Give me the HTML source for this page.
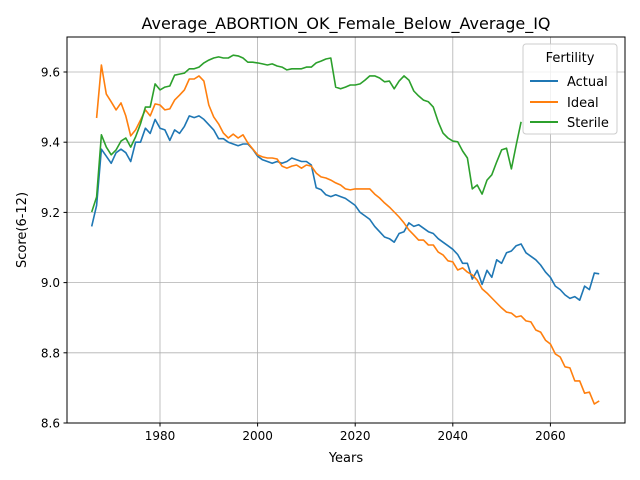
<!DOCTYPE html>
<html><head><meta charset="utf-8"><style>body{margin:0;background:#fff}svg{display:block;font-family:"DejaVu Sans","Liberation Sans",sans-serif}</style></head>
<body>
<svg id="chart" width="640" height="480" xmlns="http://www.w3.org/2000/svg">
<rect width="640" height="480" fill="#fff"/>
<text x="346" y="29" font-size="16" text-anchor="middle">Average_ABORTION_OK_Female_Below_Average_IQ</text>
<g id="grid"></g>
<g id="series"></g>
<rect x="67" y="37" width="558" height="386" fill="none" stroke="#000" stroke-width="1"/>
<g id="ticks"></g>
<text x="346" y="462" font-size="13" text-anchor="middle">Years</text>
<text transform="translate(26,230) rotate(-90)" font-size="13" text-anchor="middle">Score(6-12)</text>
<g>
<rect x="523" y="44" width="94" height="90" rx="3" fill="#fff" fill-opacity="0.8" stroke="#ccc"/>
<text x="570" y="62" font-size="13" text-anchor="middle">Fertility</text>
<line x1="530" y1="81" x2="558" y2="81" stroke="#1f77b4" stroke-width="2"/>
<text x="567" y="86" font-size="13">Actual</text>
<line x1="530" y1="102" x2="558" y2="102" stroke="#ff7f0e" stroke-width="2"/>
<text x="567" y="107" font-size="13">Ideal</text>
<line x1="530" y1="122" x2="558" y2="122" stroke="#2ca02c" stroke-width="2"/>
<text x="567" y="127" font-size="13">Sterile</text>
</g>
</svg>
<script>
const xTicks=[1980,2000,2020,2040,2060];
const yTicks=[8.6,8.8,9.0,9.2,9.4,9.6];
const actualStart=1966;
const actual=[9.16,9.22,9.38,9.36,9.34,9.37,9.38,9.37,9.345,9.40,9.40,9.44,9.425,9.465,9.44,9.435,9.405,9.435,9.425,9.445,9.475,9.47,9.475,9.465,9.45,9.435,9.41,9.41,9.40,9.395,9.39,9.395,9.395,9.38,9.36,9.35,9.345,9.34,9.345,9.34,9.345,9.355,9.35,9.345,9.345,9.335,9.27,9.265,9.25,9.245,9.25,9.245,9.24,9.23,9.22,9.20,9.19,9.18,9.16,9.145,9.13,9.125,9.115,9.14,9.145,9.17,9.16,9.165,9.155,9.145,9.14,9.125,9.115,9.105,9.095,9.08,9.055,9.055,9.01,9.035,8.995,9.035,9.015,9.065,9.055,9.085,9.09,9.105,9.11,9.085,9.075,9.065,9.05,9.03,9.015,8.99,8.98,8.965,8.955,8.96,8.95,8.99,8.98,9.027,9.025];
const idealStart=1967;
const ideal=[9.469,9.620,9.537,9.515,9.492,9.512,9.475,9.418,9.435,9.463,9.492,9.475,9.509,9.506,9.492,9.495,9.520,9.534,9.549,9.580,9.580,9.589,9.574,9.506,9.472,9.452,9.426,9.412,9.423,9.412,9.421,9.398,9.381,9.364,9.358,9.355,9.355,9.352,9.332,9.326,9.332,9.335,9.326,9.335,9.332,9.312,9.301,9.298,9.292,9.284,9.278,9.267,9.264,9.267,9.267,9.267,9.267,9.252,9.241,9.227,9.215,9.201,9.187,9.170,9.150,9.136,9.121,9.121,9.107,9.107,9.087,9.079,9.062,9.059,9.036,9.042,9.030,9.022,9.007,8.982,8.970,8.956,8.942,8.928,8.916,8.913,8.902,8.905,8.891,8.888,8.865,8.859,8.836,8.825,8.797,8.788,8.760,8.757,8.720,8.720,8.685,8.688,8.654,8.663];
const sterileStart=1966;
const sterile=[9.201,9.244,9.421,9.386,9.364,9.378,9.403,9.412,9.386,9.415,9.452,9.500,9.500,9.566,9.549,9.557,9.560,9.591,9.594,9.597,9.609,9.609,9.614,9.626,9.634,9.640,9.643,9.640,9.640,9.648,9.646,9.640,9.628,9.628,9.626,9.623,9.620,9.623,9.617,9.614,9.606,9.609,9.609,9.609,9.614,9.614,9.626,9.631,9.637,9.640,9.557,9.552,9.557,9.563,9.563,9.566,9.577,9.589,9.589,9.583,9.572,9.574,9.552,9.574,9.589,9.577,9.546,9.532,9.520,9.515,9.500,9.458,9.426,9.412,9.403,9.401,9.375,9.355,9.267,9.278,9.252,9.292,9.307,9.344,9.378,9.383,9.324,9.392,9.458];
const NS='http://www.w3.org/2000/svg';
function xs(yr){return 160+(yr-1980)*4.88;}
function ys(v){return 72+(9.6-v)*351;}
const grid=document.getElementById('grid'),ticks=document.getElementById('ticks'),ser=document.getElementById('series');
function mk(tag,attrs,parent){const e=document.createElementNS(NS,tag);for(const k in attrs)e.setAttribute(k,attrs[k]);parent.appendChild(e);return e;}
xTicks.forEach(t=>{const x=xs(t);
const g=mk('line',{x1:x,y1:37,x2:x,y2:423,stroke:'#b0b0b0','stroke-width':0.8},grid);


mk('line',{x1:x,y1:423,x2:x,y2:426.5,stroke:'#000'},ticks);
const tx=mk('text',{x:x,y:440,'font-size':12,'text-anchor':'middle'},ticks);tx.textContent=t;

});
yTicks.forEach(t=>{const y=ys(t);
const g=mk('line',{x1:67,y1:y,x2:625,y2:y,stroke:'#b0b0b0','stroke-width':0.8},grid);


mk('line',{x1:63.5,y1:y,x2:67,y2:y,stroke:'#000'},ticks);
const tx=mk('text',{x:60,y:y+4.5,'font-size':12,'text-anchor':'end'},ticks);tx.textContent=t.toFixed(1);

});
function line(vals,start,color,name){const pts=vals.map((v,i)=>xs(start+i).toFixed(1)+','+ys(v).toFixed(1)).join(' ');
const p=mk('polyline',{points:pts,fill:'none',stroke:color,'stroke-width':1.6,'stroke-linejoin':'round'},ser);

}
line(actual,actualStart,'#1f77b4','actual-line');
line(ideal,idealStart,'#ff7f0e','ideal-line');
line(sterile,sterileStart,'#2ca02c','sterile-line');
</script>
</body></html>
